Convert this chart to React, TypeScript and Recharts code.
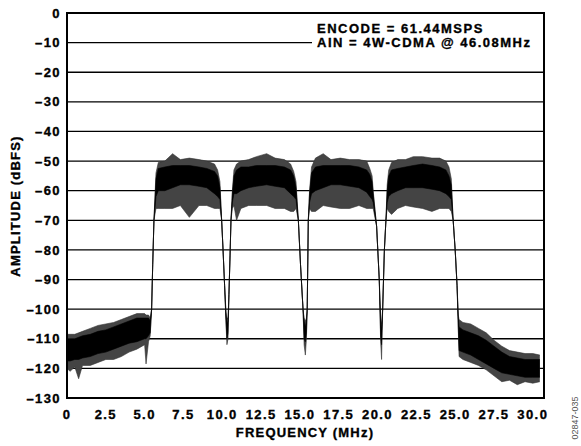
import React from 'react';
import { ComposedChart, Area, XAxis, YAxis, CartesianGrid } from 'recharts';

// Spectrum envelope (frequency in MHz, amplitude in dBFS)
const freqMHz = [
  0, 0.2, 0.5, 0.75, 1.0, 1.5, 2.0, 2.5, 3.0, 3.5, 4.0, 4.5, 5.0, 5.09, 5.25, 5.36,
  5.45, 5.52, 5.6, 5.73, 5.88, 6.3, 6.8, 7.3, 7.88, 8.5, 9.0, 9.5, 9.7, 9.85,
  9.96, 10.05, 10.15, 10.24, 10.3, 10.37, 10.43, 10.5, 10.56, 10.65, 10.75, 10.92,
  11.2, 11.7, 12.2, 12.86, 13.4, 14.0, 14.4, 14.6, 14.75, 14.9, 15.04, 15.2, 15.27,
  15.35, 15.42, 15.47, 15.54, 15.62, 15.75, 16.0, 16.5, 17.0, 17.6, 18.2, 18.8,
  19.3, 19.5, 19.65, 19.72, 19.94, 20.11, 20.2, 20.26, 20.33, 20.44, 20.54, 20.62,
  20.72, 20.9, 21.3, 21.8, 22.3, 22.9, 23.5, 24.0, 24.4, 24.6, 24.75, 24.87, 25.0,
  25.12, 25.2, 25.25, 25.5, 26.0, 26.5, 27.0, 27.5, 28.0, 28.5, 29.0, 29.5, 30.0, 30.45,
];
const peakHi = [
  -108.5, -108.5, -108.5, -108, -107.5, -106.5, -105.5, -105, -104.5, -103.5, -102.5, -101.5, -101.5, -102, -102, -103,
  -100, -85, -70, -54, -50.5, -50, -47.5, -49.5, -49, -49.5, -50, -51, -53, -57,
  -70, -80, -92, -101, -103, -103, -95, -82, -70, -60, -53, -51,
  -50, -49.5, -48.5, -47.5, -49, -49.5, -51, -53.5, -57, -70, -85, -100, -103,
  -104, -103, -100, -70, -60, -52, -49, -47.5, -49.5, -49, -49.5, -49.5,
  -50, -52.5, -55, -60, -72, -90, -103, -105, -100, -80, -70, -58,
  -53, -50.5, -49.5, -49.5, -48.5, -48.5, -49, -49, -50, -52, -56, -70, -80,
  -92, -102, -103.5, -104.5, -105, -106.5, -108, -110.5, -112.5, -114, -114.5, -115, -115, -115.5,
];
const coreHi = [
  -110, -110, -110, -109.5, -109, -108.5, -107.5, -107, -106, -105, -104, -103, -103, -103, -103, -104,
  -100, -85, -70, -56, -52.5, -52, -51.5, -51.5, -51.5, -52, -52.5, -53.5, -55, -59,
  -70, -80, -92, -102, -105, -104, -95, -82, -70, -61, -55, -53,
  -52, -52, -51.5, -51.5, -51.5, -52, -53, -55, -59, -70, -85, -100, -104,
  -106, -104, -100, -70, -61, -54, -52, -51.5, -51.5, -51.5, -51.5, -52,
  -53, -54.5, -57, -61, -72, -90, -105, -107, -100, -80, -70, -60,
  -55, -53, -52.5, -52, -51.5, -51, -51.5, -52, -53, -55, -58, -70, -80,
  -92, -103, -106, -107, -108, -109, -110.5, -112.5, -114.5, -116, -116.5, -117, -117, -117,
];
const coreLo = [
  -117.5, -117.5, -117, -117, -116.5, -116, -115, -114.5, -113.5, -112.5, -111.5, -111, -110, -110, -109, -108,
  -100, -85, -70, -62, -60, -60, -59, -58, -58, -58.5, -59, -61, -62, -63,
  -70, -80, -92, -104, -110, -108, -95, -82, -70, -64, -61, -61,
  -60, -59, -58.5, -58, -58.5, -59, -61, -62, -63, -70, -85, -100, -110,
  -111, -108, -100, -70, -64, -61, -60, -59, -58, -58, -58.5, -59,
  -60.5, -62, -63, -64, -72, -90, -109, -112, -100, -80, -70, -64,
  -62, -61, -60, -59, -59, -59, -59.5, -60, -61, -62, -63, -70, -80,
  -92, -106, -114, -114.5, -115.5, -117, -118.5, -120, -121.5, -122, -122.5, -123, -123, -123,
];
const peakLo = [
  -120, -121, -119.5, -123.5, -119, -119, -118, -117, -117, -116, -114.5, -113.5, -112, -118.5, -111, -109,
  -100, -85, -70, -66, -66, -66, -66, -65, -69, -65, -65, -66, -66, -66,
  -70, -80, -92, -105, -112, -110, -95, -82, -70, -66, -65, -70,
  -66, -65, -65, -65, -66, -66, -67, -67, -66, -70, -85, -100, -112,
  -115.5, -110, -100, -70, -66, -67, -67, -65, -65.5, -66, -66, -65,
  -66, -66, -66, -66, -72, -90, -111, -117, -100, -80, -70, -66,
  -67, -68, -66, -65, -65.5, -66, -67, -66, -66, -66, -67, -70, -80,
  -92, -107, -116, -117, -118, -119, -120.5, -122.5, -124.5, -124, -125.5, -124.5, -125, -124.5,
];

const xTicks = [0, 2.5, 5, 7.5, 10, 12.5, 15, 17.5, 20, 22.5, 25, 27.5, 30];
const yTicks = [0, -10, -20, -30, -40, -50, -60, -70, -80, -90, -100, -110, -120, -130];

const legendLines = ['ENCODE = 61.44MSPS', 'AIN = 4W-CDMA @ 46.08MHz'];
const xTitle = 'FREQUENCY (MHz)';
const yTitle = 'AMPLITUDE (dBFS)';
const figureId = '02847-035';

const rows = freqMHz.map((f, i) => ({
  f,
  outer: [peakLo[i], peakHi[i]],
  core: [coreLo[i], coreHi[i]],
}));

const FONT = '"Liberation Sans", Arial, Helvetica, sans-serif';
const tickStyle = { fill: '#000', stroke: '#000', strokeWidth: 0.35, fontSize: 13, fontWeight: 700, fontFamily: FONT, letterSpacing: 1.4 };
const heavy = { WebkitTextStroke: '0.35px #000' } as React.CSSProperties;

const fmtY = (v: number) => (v === 0 ? '0' : '\u2013' + Math.abs(v));
const fmtX = (v: number) => (v === 0 ? '0' : v.toFixed(1));

export default function App() {
  return (
    <div style={{ position: 'absolute', left: 0, top: 0, width: 581, height: 446, background: '#fff', fontFamily: FONT }}>
      <ComposedChart width={581} height={446} data={rows} margin={{ top: 13, right: 37, bottom: 0, left: 0 }}>
        <CartesianGrid horizontal vertical={false} stroke="#000" strokeWidth={1.3} />
        <XAxis
          dataKey="f"
          type="number"
          domain={[0, 30.72]}
          ticks={xTicks}
          interval={0}
          tickFormatter={fmtX}
          axisLine={false}
          tickLine={false}
          tickSize={0}
          tickMargin={12}
          height={48}
          tick={tickStyle}
          allowDataOverflow
        />
        <YAxis
          type="number"
          domain={[-130, 0]}
          ticks={yTicks}
          interval={0}
          tickFormatter={fmtY}
          axisLine={false}
          tickLine={false}
          tickSize={0}
          tickMargin={6}
          width={67}
          tick={tickStyle}
          allowDataOverflow
        />
        <Area type="linear" dataKey="outer" fill="#444" fillOpacity={1} stroke="#333" strokeWidth={0.6} isAnimationActive={false} dot={false} activeDot={false} />
        <Area type="linear" dataKey="core" fill="#000" fillOpacity={1} stroke="#000" strokeWidth={0.6} isAnimationActive={false} dot={false} activeDot={false} />
      </ComposedChart>

      {/* annotation box */}
      <div style={{ position: 'absolute', left: 312, top: 15, width: 232, height: 46, background: '#fff', paddingTop: 7, paddingLeft: 5, boxSizing: 'border-box', overflow: 'hidden' }}>
        {legendLines.map((t) => (
          <div key={t} style={{ ...heavy, fontSize: 13, fontWeight: 700, lineHeight: '13.5px', letterSpacing: 1.5, whiteSpace: 'nowrap', color: '#000' }}>{t}</div>
        ))}
      </div>

      {/* plot frame */}
      <div style={{ position: 'absolute', left: 66, top: 12, width: 479, height: 387, border: '2px solid #000', boxSizing: 'border-box', pointerEvents: 'none' }} />

      {/* x title */}
      <div style={{ ...heavy, position: 'absolute', left: 105, width: 400, top: 425, textAlign: 'center', fontSize: 13, fontWeight: 700, letterSpacing: 1.2, lineHeight: '16px', color: '#000', whiteSpace: 'nowrap' }}>{xTitle}</div>

      {/* y title */}
      <div style={{ position: 'absolute', left: 16, top: 206, width: 0, height: 0 }}>
        <div style={{ ...heavy, position: 'absolute', left: -100, top: -8, width: 200, textAlign: 'center', transform: 'rotate(-90deg)', fontSize: 13, fontWeight: 700, letterSpacing: 1.2, lineHeight: '16px', color: '#000', whiteSpace: 'nowrap' }}>{yTitle}</div>
      </div>

      {/* figure id */}
      <div style={{ position: 'absolute', left: 575, top: 418, width: 0, height: 0 }}>
        <div style={{ position: 'absolute', left: -40, top: -6, width: 80, textAlign: 'center', transform: 'rotate(-90deg)', fontSize: 9, lineHeight: '12px', color: '#555', whiteSpace: 'nowrap' }}>{figureId}</div>
      </div>
    </div>
  );
}
